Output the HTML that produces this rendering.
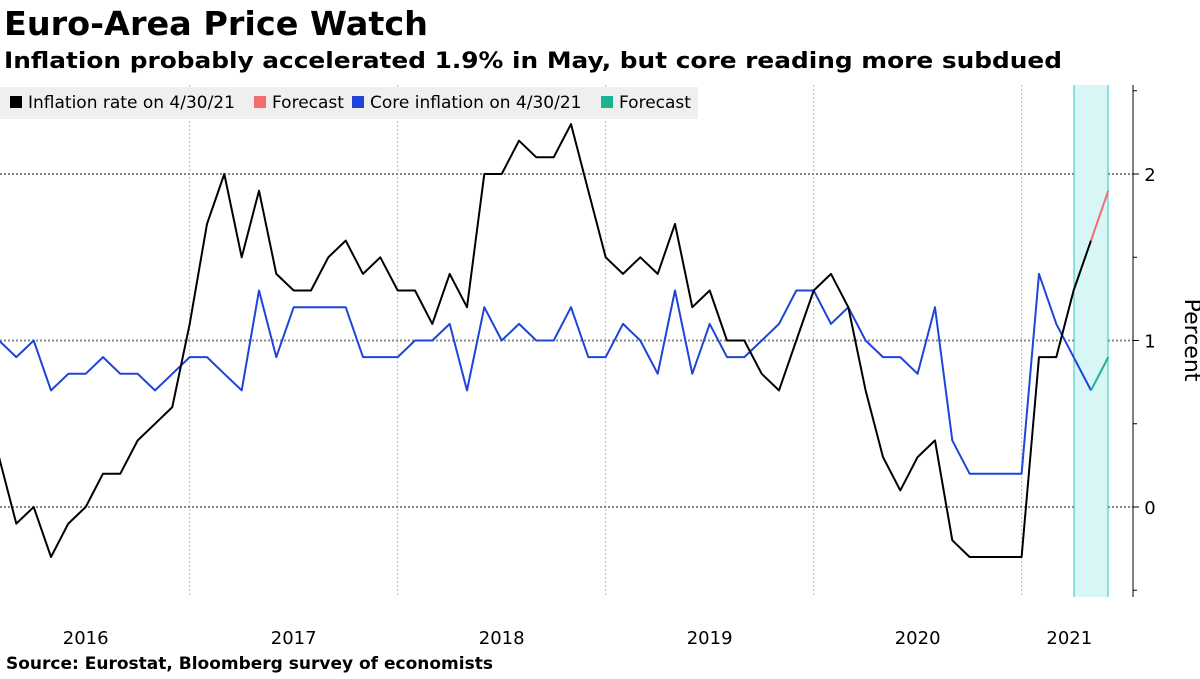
<!DOCTYPE html>
<html><head><meta charset="utf-8"><style>
body{margin:0;width:1200px;height:675px;background:#fff;overflow:hidden;font-family:"DejaVu Sans","Liberation Sans",sans-serif;}
</style></head><body>
<svg width="1200" height="675" xmlns="http://www.w3.org/2000/svg">
<text x="4" y="35" font-size="33" font-weight="bold" fill="#000" textLength="424" lengthAdjust="spacingAndGlyphs">Euro-Area Price Watch</text>
<text x="4" y="68" font-size="22" font-weight="bold" fill="#000" textLength="1058" lengthAdjust="spacingAndGlyphs">Inflation probably accelerated 1.9% in May, but core reading more subdued</text>
<g id="grid"></g>
<rect x="1074" y="85" width="34" height="512" fill="#d8f6f6"/>
<line x1="1074" x2="1074" y1="85" y2="597" stroke="#2ec4c4"/>
<line x1="1108" x2="1108" y1="85" y2="597" stroke="#2ec4c4"/>
<g id="axes"></g>
<g id="series"></g>
<g>
<rect x="0" y="87" width="698" height="32" fill="#efefef"/>
<rect x="10" y="96" width="12" height="12" fill="#000"/><text x="28" y="108" font-size="17">Inflation rate on 4/30/21</text>
<rect x="254" y="96" width="12" height="12" fill="#f26d6d"/><text x="272" y="108" font-size="17">Forecast</text>
<rect x="352" y="96" width="12" height="12" fill="#1f44d8"/><text x="370" y="108" font-size="17">Core inflation on 4/30/21</text>
<rect x="601" y="96" width="12" height="12" fill="#1ab394"/><text x="619" y="108" font-size="17">Forecast</text>
</g>
<text x="1185" y="340" font-size="22" text-anchor="middle" transform="rotate(90 1185 340)">Percent</text>
<text x="6" y="669" font-size="17" font-weight="bold">Source: Eurostat, Bloomberg survey of economists</text>
</svg>
<script>
const headline=[0.3,-0.1,0.0,-0.3,-0.1,0.0,0.2,0.2,0.4,0.5,0.6,1.1,1.7,2.0,1.5,1.9,1.4,1.3,1.3,1.5,1.6,1.4,1.5,1.3,1.3,1.1,1.4,1.2,2.0,2.0,2.2,2.1,2.1,2.3,1.9,1.5,1.4,1.5,1.4,1.7,1.2,1.3,1.0,1.0,0.8,0.7,1.0,1.3,1.4,1.2,0.7,0.3,0.1,0.3,0.4,-0.2,-0.3,-0.3,-0.3,-0.3,0.9,0.9,1.3,1.6];
const headlineForecast=[1.9];
const core=[1.0,0.9,1.0,0.7,0.8,0.8,0.9,0.8,0.8,0.7,0.8,0.9,0.9,0.8,0.7,1.3,0.9,1.2,1.2,1.2,1.2,0.9,0.9,0.9,1.0,1.0,1.1,0.7,1.2,1.0,1.1,1.0,1.0,1.2,0.9,0.9,1.1,1.0,0.8,1.3,0.8,1.1,0.9,0.9,1.0,1.1,1.3,1.3,1.1,1.2,1.0,0.9,0.9,0.8,1.2,0.4,0.2,0.2,0.2,0.2,1.4,1.1,0.9,0.7];
const coreForecast=[0.9];
const years=["2016","2017","2018","2019","2020","2021"];
const yTicks=[0,1,2];
const NS="http://www.w3.org/2000/svg";
const xS=i=>-1+i*17.333;
const yS=v=>507-v*166.5;
function mk(t,a,p){const e=document.createElementNS(NS,t);for(const k in a)e.setAttribute(k,a[k]);document.getElementById(p).appendChild(e);return e;}
years.forEach((y,k)=>{
  if(k<5){const g=mk('line',{x1:xS(11+12*k),x2:xS(11+12*k),y1:85,y2:597,stroke:'#bbb','stroke-dasharray':'2,2'},'grid');
  
  }
  const start=k===0?-1:11+12*(k-1), end=k===5?64.5:11+12*k;
  const t=mk('text',{x:(xS(start)+xS(end))/2,y:644,'font-size':18,'text-anchor':'middle'},'axes');
  t.textContent=y;
  
  
});
yTicks.forEach(v=>{
  const g=mk('line',{x1:0,x2:1133,y1:yS(v),y2:yS(v),stroke:'#888','stroke-width':2,'stroke-dasharray':'2,2'},'grid');
  
  
  mk('line',{x1:1133,x2:1139,y1:yS(v),y2:yS(v),stroke:'#000'},'axes');
  const t=mk('text',{x:1150,y:yS(v)+7,'font-size':18,'text-anchor':'middle'},'axes');
  t.textContent=v;
  
  
});
[-0.5,0.5,1.5,2.5].forEach(v=>mk('line',{x1:1133,x2:1137,y1:yS(v),y2:yS(v),stroke:'#000'},'axes'));
const ax=mk('line',{x1:1133,x2:1133,y1:85,y2:597,stroke:'#000'},'axes');


function line(arr,off,color,name){
  const d=arr.map((v,i)=>(i?'L':'M')+xS(i+off).toFixed(1)+','+yS(v).toFixed(1)).join('');
  const p=mk('path',{d:d,fill:'none',stroke:color,'stroke-width':2,'stroke-linejoin':'round'},'series');
  
  
}
line(core,0,'#1f44d8','core-inflation-line');
line([core[core.length-1]].concat(coreForecast),core.length-1,'#1ab394','core-forecast-line');
line(headline,0,'#000','inflation-rate-line');
line([headline[headline.length-1]].concat(headlineForecast),headline.length-1,'#f26d6d','inflation-forecast-line');
</script>
</body></html>
